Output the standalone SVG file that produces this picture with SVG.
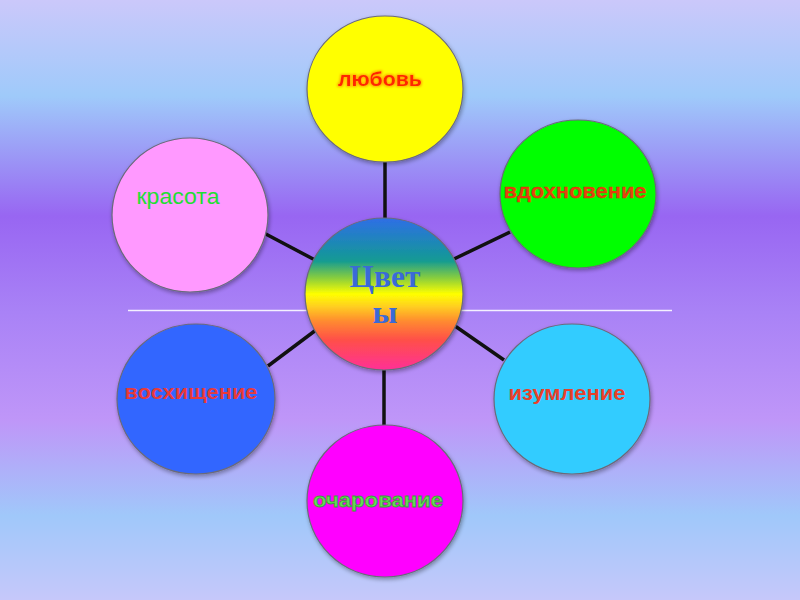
<svg xmlns="http://www.w3.org/2000/svg" width="800" height="600" viewBox="0 0 800 600">
<defs>
<linearGradient id="bg" x1="0" y1="0" x2="0" y2="1">
<stop offset="0" stop-color="#cbc8fa"/>
<stop offset="0.16" stop-color="#9fcafa"/>
<stop offset="0.36" stop-color="#9866f2"/>
<stop offset="0.52" stop-color="#a982f6"/>
<stop offset="0.7" stop-color="#bf96f8"/>
<stop offset="0.86" stop-color="#a0c8fa"/>
<stop offset="1" stop-color="#c6c8fa"/>
</linearGradient>
<linearGradient id="rainbow" x1="0" y1="0" x2="0" y2="1">
<stop offset="0" stop-color="#2f6ee6"/>
<stop offset="0.28" stop-color="#129a94"/>
<stop offset="0.4" stop-color="#8ed03a"/>
<stop offset="0.5" stop-color="#ffff00"/>
<stop offset="0.58" stop-color="#ffd020"/>
<stop offset="0.68" stop-color="#ff8a30"/>
<stop offset="0.8" stop-color="#ff5048"/>
<stop offset="1" stop-color="#ff3096"/>
</linearGradient>
<filter id="sh" x="-20%" y="-20%" width="140%" height="140%">
<feGaussianBlur in="SourceAlpha" stdDeviation="2"/>
<feOffset dx="1" dy="2" result="b"/>
<feComponentTransfer><feFuncA type="linear" slope="0.35"/></feComponentTransfer>
<feMerge><feMergeNode/><feMergeNode in="SourceGraphic"/></feMerge>
</filter>
<filter id="glow" x="-10%" y="-30%" width="120%" height="160%">
<feMorphology in="SourceAlpha" operator="dilate" radius="1" result="d"/>
<feGaussianBlur in="d" stdDeviation="0.8" result="g"/>
<feFlood flood-color="#ff9a00" flood-opacity="0.8"/>
<feComposite in2="g" operator="in"/>
<feMerge><feMergeNode/><feMergeNode in="SourceGraphic"/></feMerge>
</filter>
</defs>
<style>
.node{stroke:#6a6a7a;stroke-width:1.2;filter:url(#sh)}
.lbl{font-family:"Liberation Sans",Arial,sans-serif;font-size:21px;font-weight:bold;text-anchor:middle}
.ctr{font-family:"Liberation Serif","Times New Roman",serif;font-size:32px;font-weight:bold;text-anchor:middle;fill:#3a6ad8}
.con{stroke:#111;stroke-width:3.5;stroke-linecap:butt}
</style>
<rect x="0" y="0" width="800" height="600" fill="url(#bg)"/>
<line x1="128" y1="310.5" x2="672" y2="310.5" stroke="#f4f0ff" stroke-width="1.5"/>
<g id="connectors">
<line class="con" x1="385" y1="162" x2="385" y2="219"/>
<line class="con" x1="262" y1="232" x2="315" y2="260"/>
<line class="con" x1="510" y1="232" x2="454" y2="259"/>
<line class="con" x1="268" y1="366" x2="316" y2="330"/>
<line class="con" x1="504" y1="360" x2="455" y2="326"/>
<line class="con" x1="384" y1="369" x2="384" y2="427"/>
</g>
<g id="n-lubov">
<ellipse class="node" cx="385" cy="89" rx="78" ry="73" fill="#ffff00"/>
<text class="lbl" x="380" y="86" fill="#ff2800" filter="url(#glow)" textLength="84" lengthAdjust="spacingAndGlyphs">любовь</text>
</g>
<g id="n-krasota">
<ellipse class="node" cx="190" cy="215" rx="78" ry="77" fill="#ff99ff"/>
<text x="178" y="204" fill="#22dd33" style="font-family:'Liberation Sans',Arial,sans-serif;font-size:22px;text-anchor:middle" textLength="83" lengthAdjust="spacingAndGlyphs">красота</text>
</g>
<g id="n-vdohnovenie">
<ellipse class="node" cx="578" cy="194" rx="78" ry="74" fill="#00ff00"/>
<text class="lbl" x="575" y="198" fill="#e84010" stroke="#cc3300" stroke-width="0.3" textLength="143" lengthAdjust="spacingAndGlyphs">вдохновение</text>
</g>
<g id="n-center">
<ellipse class="node" cx="384" cy="294" rx="79" ry="76" fill="url(#rainbow)"/>
<text class="ctr" x="385" y="287" textLength="71" lengthAdjust="spacingAndGlyphs">Цвет</text>
<text class="ctr" x="385" y="323">ы</text>
</g>
<g id="n-voshishenie">
<ellipse class="node" cx="196" cy="399" rx="79" ry="75" fill="#3366ff"/>
<text class="lbl" x="191" y="399" fill="#e83a3a" textLength="133" lengthAdjust="spacingAndGlyphs">восхищение</text>
</g>
<g id="n-izumlenie">
<ellipse class="node" cx="572" cy="399" rx="78" ry="75" fill="#33ccff"/>
<text class="lbl" x="567" y="400" fill="#e8402a" textLength="117" lengthAdjust="spacingAndGlyphs">изумление</text>
</g>
<g id="n-ocharovanie">
<ellipse class="node" cx="385" cy="501" rx="78" ry="76" fill="#ff00ff"/>
<text class="lbl" x="378" y="507" fill="#66dd55" stroke="#3a9a3a" stroke-width="0.8" textLength="130" lengthAdjust="spacingAndGlyphs">очарование</text>
</g>
</svg>
